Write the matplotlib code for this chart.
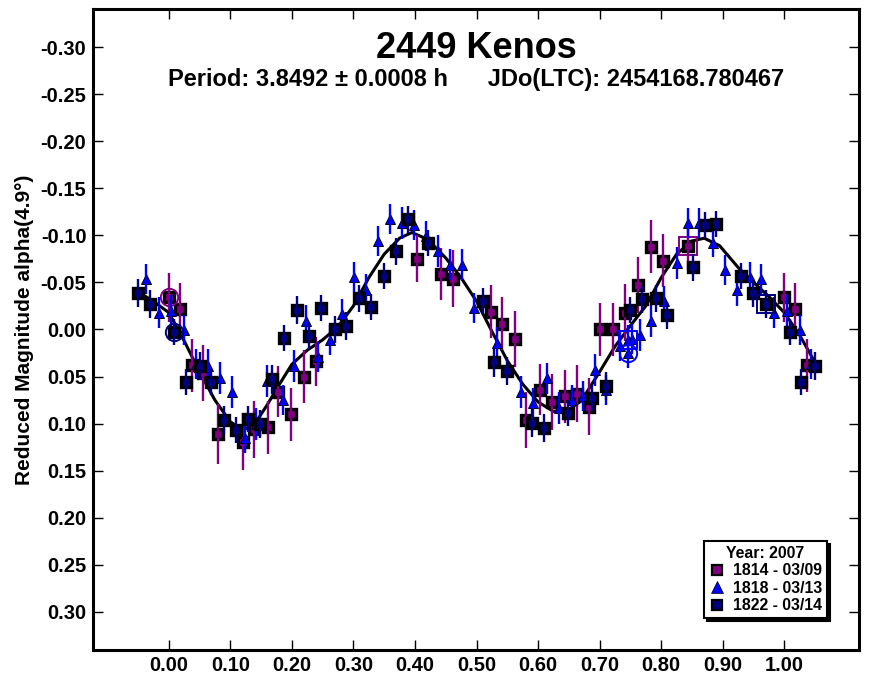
import matplotlib
matplotlib.use("Agg")
import matplotlib.pyplot as plt
from matplotlib.lines import Line2D
from matplotlib.ticker import FormatStrFormatter, FixedLocator

plt.rcParams['font.family'] = ['Liberation Sans', 'DejaVu Sans']
plt.rcParams['font.weight'] = 'bold'
plt.rcParams['axes.unicode_minus'] = False

# ---------------- text ----------------
title = "2449 Kenos"
subtitle = "Period: 3.8492 \u00b1 0.0008 h      JDo(LTC): 2454168.780467"
ylabel = "Reduced Magnitude alpha(4.9\u00b0)"
legend_title = "Year: 2007"
series_labels = ["1814 - 03/09", "1818 - 03/13", "1822 - 03/14"]

x_ticks = [0.0, 0.1, 0.2, 0.3, 0.4, 0.5, 0.6, 0.7, 0.8, 0.9, 1.0]
y_ticks = [-0.30, -0.25, -0.20, -0.15, -0.10, -0.05, 0.0, 0.05, 0.10, 0.15, 0.20, 0.25, 0.30]

# ---------------- data (phase in [0,1), first obs first, last obs last) ----------------
phase_1814 = [0.000, 0.018, 0.037, 0.056, 0.080, 0.121, 0.139, 0.161, 0.178, 0.199, 0.220, 0.240,
              0.403, 0.442, 0.462, 0.523, 0.542, 0.563, 0.581, 0.603, 0.623, 0.643, 0.664, 0.683,
              0.701, 0.722, 0.742, 0.763, 0.783, 0.803, 0.844]
mag_1814 = [-0.034, -0.022, 0.038, 0.046, 0.111, 0.119, 0.106, 0.104, 0.066, 0.090, 0.050, 0.034,
            -0.075, -0.059, -0.054, -0.019, -0.006, 0.010, 0.096, 0.064, 0.077, 0.071, 0.068, 0.082,
            0.000, 0.000, -0.018, -0.047, -0.088, -0.073, -0.089]
err_1814 = [0.026, 0.027, 0.028, 0.030, 0.032, 0.030, 0.030, 0.028, 0.027, 0.028, 0.028, 0.026,
            0.025, 0.028, 0.030, 0.028, 0.028, 0.030, 0.030, 0.027, 0.030, 0.028, 0.030, 0.030,
            0.028, 0.028, 0.030, 0.030, 0.028, 0.028, 0.026]

phase_1818 = [0.746, 0.752, 0.765, 0.783, 0.805, 0.825, 0.843, 0.862, 0.884, 0.904, 0.924, 0.944,
              0.963, 0.984, 0.004, 0.025, 0.044, 0.064, 0.084, 0.103, 0.124, 0.142, 0.160, 0.185,
              0.204, 0.223, 0.243, 0.262, 0.281, 0.301, 0.320, 0.340, 0.360, 0.379, 0.398, 0.418,
              0.437, 0.457, 0.477, 0.496, 0.534, 0.573, 0.592, 0.614, 0.634, 0.655, 0.673, 0.692,
              0.711, 0.733, 0.746]
mag_1818 = [0.025, 0.010, 0.006, -0.009, -0.030, -0.071, -0.113, -0.113, -0.092, -0.063, -0.042, -0.056,
            -0.054, -0.018, -0.020, 0.001, 0.037, 0.039, 0.052, 0.066, 0.115, 0.100, 0.055, 0.075,
            0.039, -0.009, 0.029, 0.011, -0.016, -0.056, -0.042, -0.094, -0.117, -0.113, -0.111, -0.099,
            -0.083, -0.069, -0.069, -0.023, 0.014, 0.066, 0.078, 0.052, 0.083, 0.075, 0.071, 0.043,
            0.064, 0.018, 0.011]
err_1818 = [0.016, 0.016, 0.017, 0.017, 0.016, 0.017, 0.016, 0.016, 0.015, 0.016, 0.017, 0.016,
            0.016, 0.016, 0.017, 0.016, 0.016, 0.018, 0.017, 0.017, 0.016, 0.017, 0.017, 0.016,
            0.017, 0.017, 0.016, 0.016, 0.016, 0.016, 0.017, 0.016, 0.016, 0.017, 0.016, 0.016,
            0.017, 0.016, 0.016, 0.016, 0.017, 0.017, 0.016, 0.016, 0.017, 0.016, 0.016, 0.017,
            0.016, 0.016, 0.016]

phase_1822 = [0.009, 0.028, 0.050, 0.068, 0.089, 0.109, 0.129, 0.148, 0.167, 0.188, 0.209, 0.228,
              0.247, 0.270, 0.288, 0.309, 0.329, 0.349, 0.369, 0.389, 0.422, 0.511, 0.529, 0.549,
              0.590, 0.610, 0.649, 0.688, 0.710, 0.749, 0.769, 0.791, 0.810, 0.851, 0.871, 0.889,
              0.930, 0.950, 0.970]
mag_1822 = [0.003, 0.056, 0.039, 0.056, 0.096, 0.107, 0.095, 0.100, 0.053, 0.009, -0.021, 0.007,
            -0.023, 0.000, -0.004, -0.033, -0.024, -0.057, -0.083, -0.117, -0.092, -0.030, 0.035, 0.044,
            0.099, 0.105, 0.089, 0.073, 0.060, -0.021, -0.032, -0.033, -0.015, -0.066, -0.111, -0.112,
            -0.057, -0.039, -0.027]
err_1822 = [0.014, 0.014, 0.015, 0.014, 0.015, 0.014, 0.014, 0.015, 0.015, 0.014, 0.015, 0.014,
            0.014, 0.014, 0.015, 0.014, 0.014, 0.014, 0.014, 0.014, 0.014, 0.014, 0.015, 0.015,
            0.015, 0.015, 0.014, 0.014, 0.015, 0.014, 0.014, 0.014, 0.014, 0.014, 0.014, 0.014,
            0.014, 0.015, 0.015]

# Fourier fit curve
fit_phase = [-0.050, -0.025, 0.000, 0.025, 0.050, 0.075, 0.100, 0.120, 0.140, 0.160, 0.180, 0.200,
             0.225, 0.250, 0.275, 0.300, 0.325, 0.350, 0.375, 0.395, 0.420, 0.450, 0.475, 0.500,
             0.525, 0.550, 0.575, 0.600, 0.625, 0.650, 0.670, 0.700, 0.725, 0.750, 0.775, 0.800,
             0.825, 0.850, 0.870, 0.895, 0.925, 0.950, 0.975, 1.000, 1.025, 1.050]
fit_mag = [-0.040, -0.030, -0.018, 0.012, 0.045, 0.075, 0.098, 0.107, 0.100, 0.080, 0.058, 0.037,
           0.022, 0.011, -0.003, -0.025, -0.055, -0.080, -0.097, -0.103, -0.096, -0.076, -0.055, -0.030,
           0.002, 0.033, 0.058, 0.077, 0.087, 0.085, 0.076, 0.045, 0.018, -0.004, -0.025, -0.055,
           -0.080, -0.094, -0.097, -0.089, -0.066, -0.050, -0.035, -0.018, 0.006, 0.035]

PURPLE = '#800080'
BLUE = '#0000FF'
NAVY = '#000080'

series = [
    (phase_1814, mag_1814, err_1814, PURPLE, 's'),
    (phase_1818, mag_1818, err_1818, BLUE, '^'),
    (phase_1822, mag_1822, err_1822, NAVY, 's'),
]

WRAP_LO, WRAP_HI = -0.055, 1.052


def wrapped(ph, mg, er):
    xs, ys, es = [], [], []
    for p, m, e in zip(ph, mg, er):
        for shift in (-1.0, 0.0, 1.0):
            q = p + shift
            if WRAP_LO <= q <= WRAP_HI:
                xs.append(q)
                ys.append(m)
                es.append(e)
    return xs, ys, es


fig = plt.figure(figsize=(8.7, 6.8), dpi=100)
ax = fig.add_axes([0.1066, 0.0441, 0.8808, 0.9427])

# fit curve
ax.plot(fit_phase, fit_mag, color='black', lw=2.2, zorder=2)

z = 3
for ph, mg, er, col, mk in series:
    xs, ys, es = wrapped(ph, mg, er)
    if mk == 's':
        ax.plot(xs, ys, ls='none', marker='s', ms=7.3, mfc=col, mec='black', mew=2.4, zorder=z)
    else:
        ax.plot(xs, ys, ls='none', marker='^', ms=7.6, mfc=col, mec='black', mew=0.7, zorder=z)
    ax.errorbar(xs, ys, yerr=es, fmt='none', ecolor=col, elinewidth=1.7, capsize=0, zorder=z + 1)
    # first (circle) and last (square) observation of each session
    ax.plot([ph[0]], [mg[0]], ls='none', marker='o', ms=12.5, mfc='none', mec=col, mew=1.4, zorder=z + 1)
    ax.plot([ph[-1]], [mg[-1]], ls='none', marker='s', ms=12.5, mfc='none', mec=col, mew=1.4, zorder=z + 1)
    z += 2

ax.set_xlim(-0.1235, 1.1215)
ax.set_ylim(0.3405, -0.3405)
ax.xaxis.set_major_locator(FixedLocator(x_ticks))
ax.yaxis.set_major_locator(FixedLocator(y_ticks))
ax.xaxis.set_major_formatter(FormatStrFormatter('%.2f'))
ax.yaxis.set_major_formatter(FormatStrFormatter('%.2f'))
ax.tick_params(axis='both', which='major', direction='in', length=7.5, width=1.0,
               top=True, right=True, labelsize=14.5, pad=4.5, colors='black')
for lab in ax.get_xticklabels() + ax.get_yticklabels():
    lab.set_fontweight('bold')
for sp in ax.spines.values():
    sp.set_linewidth(2.2)

ax.set_ylabel(ylabel, fontsize=15, fontweight='bold', labelpad=5)

cx = (0.1066 + 0.9874) / 2
fig.text(cx, 1 - 58 / 680, title, ha='center', va='baseline', fontsize=26, fontweight='bold', zorder=20)
fig.text(cx, 1 - 86 / 680, subtitle, ha='center', va='baseline', fontsize=17, fontweight='bold', zorder=20)

handles = [
    Line2D([], [], ls='none', marker='s', ms=7, mfc=PURPLE, mec='black', mew=1.6),
    Line2D([], [], ls='none', marker='^', ms=8, mfc=BLUE, mec='black', mew=0.5),
    Line2D([], [], ls='none', marker='s', ms=7, mfc=NAVY, mec='black', mew=1.6),
]
leg = ax.legend(handles, series_labels, title=legend_title, loc='lower right',
                bbox_to_anchor=(0.958, 0.050), borderaxespad=0, frameon=True, fancybox=False,
                shadow={'ox': 2.2, 'oy': -2.2, 'facecolor': 'black', 'edgecolor': 'black', 'alpha': 1},
                edgecolor='black', framealpha=1, borderpad=0.3, labelspacing=0.15,
                handlelength=1.0, handletextpad=0.5,
                prop={'weight': 'bold', 'size': 11.4},
                title_fontproperties={'weight': 'bold', 'size': 11.4})
leg.get_frame().set_linewidth(1.5)
leg.set_zorder(30)

fig.savefig('out.png', dpi=100)
